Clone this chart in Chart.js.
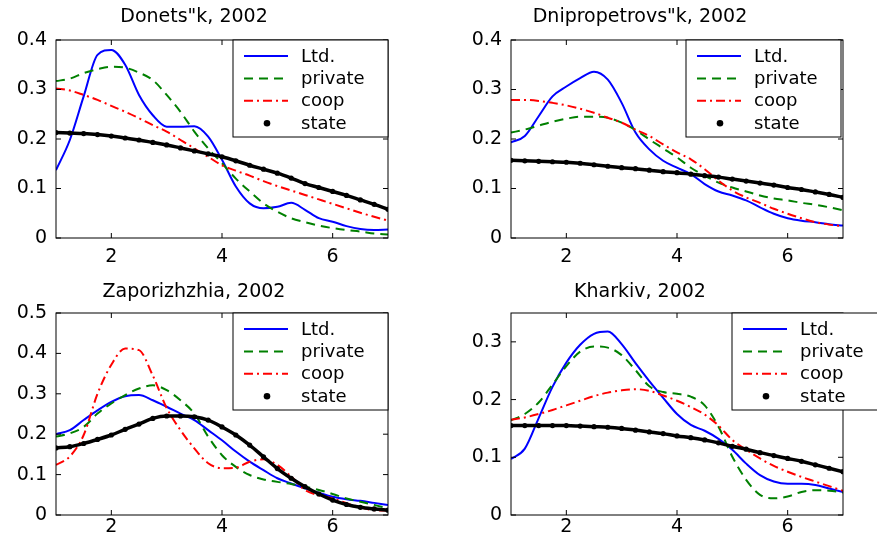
<!DOCTYPE html>
<html lang="en">
<head>
<meta charset="UTF-8">
<title>Densities by ownership type, 2002</title>
<script src="https://cdn.jsdelivr.net/npm/chart.js@4"></script>
<style>
  body { margin: 0; background: #fff; }
  .panel { position: absolute; }
</style>
</head>
<body>

<div class="panel" style="left:0;top:0;width:437px;height:270px"><canvas id="c1"></canvas></div>
<div class="panel" style="left:437px;top:0;width:440px;height:270px"><canvas id="c2"></canvas></div>
<div class="panel" style="left:0;top:270px;width:437px;height:271px"><canvas id="c3"></canvas></div>
<div class="panel" style="left:437px;top:270px;width:440px;height:271px"><canvas id="c4"></canvas></div>

<script>
// x grid shared by all curves
const xs = [1, 1.25, 1.5, 1.75, 2, 2.25, 2.5, 2.75, 3, 3.25, 3.5, 3.75, 4,
            4.25, 4.5, 4.75, 5, 5.25, 5.5, 5.75, 6, 6.25, 6.5, 6.75, 7];
const xTicks = [2, 4, 6];
const seriesNames = ['Ltd.', 'private', 'coop', 'state'];

// Donets"k
const donLtd     = [0.137, 0.198, 0.286, 0.370, 0.380, 0.350, 0.289, 0.248, 0.225, 0.225, 0.226, 0.205, 0.158,
                    0.104, 0.070, 0.060, 0.063, 0.071, 0.057, 0.040, 0.033, 0.024, 0.018, 0.016, 0.017];
const donPrivate = [0.317, 0.322, 0.333, 0.341, 0.346, 0.344, 0.334, 0.319, 0.289, 0.255, 0.215, 0.181, 0.151,
                    0.120, 0.094, 0.070, 0.053, 0.040, 0.032, 0.025, 0.020, 0.016, 0.013, 0.009, 0.007];
const donCoop    = [0.302, 0.298, 0.289, 0.279, 0.267, 0.255, 0.242, 0.228, 0.215, 0.198, 0.181, 0.164, 0.147,
                    0.136, 0.126, 0.115, 0.105, 0.096, 0.087, 0.078, 0.069, 0.060, 0.051, 0.043, 0.035];
const donState   = [0.213, 0.212, 0.211, 0.209, 0.206, 0.202, 0.198, 0.193, 0.188, 0.182, 0.176, 0.170, 0.164,
                    0.156, 0.147, 0.139, 0.131, 0.121, 0.110, 0.102, 0.094, 0.086, 0.077, 0.068, 0.058];

// Dnipropetrovs"k
const dniLtd     = [0.193, 0.206, 0.246, 0.286, 0.306, 0.323, 0.336, 0.320, 0.273, 0.213, 0.179, 0.156, 0.142,
                    0.129, 0.109, 0.094, 0.086, 0.076, 0.062, 0.049, 0.040, 0.035, 0.032, 0.028, 0.025];
const dniPrivate = [0.213, 0.219, 0.227, 0.235, 0.241, 0.245, 0.245, 0.243, 0.233, 0.218, 0.199, 0.181, 0.163,
                    0.142, 0.126, 0.112, 0.102, 0.094, 0.086, 0.080, 0.076, 0.071, 0.067, 0.062, 0.056];
const dniCoop    = [0.279, 0.279, 0.277, 0.273, 0.268, 0.261, 0.253, 0.243, 0.233, 0.219, 0.206, 0.189, 0.173,
                    0.159, 0.139, 0.116, 0.096, 0.082, 0.071, 0.059, 0.049, 0.040, 0.032, 0.027, 0.024];
const dniState   = [0.157, 0.156, 0.155, 0.154, 0.153, 0.151, 0.148, 0.145, 0.142, 0.140, 0.137, 0.134, 0.132,
                    0.129, 0.126, 0.123, 0.119, 0.115, 0.111, 0.107, 0.102, 0.098, 0.093, 0.088, 0.082];

// Zaporizhzhia
const zapLtd     = [0.200, 0.210, 0.235, 0.259, 0.280, 0.294, 0.297, 0.284, 0.268, 0.251, 0.235, 0.210, 0.185,
                    0.157, 0.132, 0.111, 0.091, 0.078, 0.066, 0.055, 0.045, 0.039, 0.035, 0.030, 0.025];
const zapPrivate = [0.194, 0.202, 0.218, 0.251, 0.276, 0.297, 0.313, 0.321, 0.309, 0.284, 0.251, 0.194, 0.148,
                    0.119, 0.099, 0.088, 0.082, 0.077, 0.070, 0.062, 0.052, 0.041, 0.033, 0.025, 0.016];
const zapCoop    = [0.124, 0.145, 0.198, 0.300, 0.372, 0.412, 0.408, 0.345, 0.265, 0.210, 0.165, 0.128, 0.116,
                    0.117, 0.132, 0.138, 0.124, 0.095, 0.062, 0.049, 0.041, 0.029, 0.019, 0.012, 0.011];
const zapState   = [0.166, 0.169, 0.177, 0.187, 0.198, 0.212, 0.225, 0.239, 0.245, 0.245, 0.243, 0.235, 0.218,
                    0.198, 0.173, 0.144, 0.115, 0.091, 0.070, 0.052, 0.037, 0.026, 0.019, 0.015, 0.012];

// Kharkiv
const khaLtd     = [0.097, 0.115, 0.168, 0.222, 0.264, 0.295, 0.314, 0.318, 0.296, 0.263, 0.232, 0.203, 0.175,
                    0.156, 0.146, 0.132, 0.113, 0.089, 0.069, 0.058, 0.054, 0.054, 0.052, 0.046, 0.040];
const khaPrivate = [0.164, 0.175, 0.195, 0.226, 0.258, 0.283, 0.292, 0.290, 0.277, 0.251, 0.223, 0.213, 0.210,
                    0.205, 0.190, 0.153, 0.101, 0.061, 0.035, 0.029, 0.032, 0.040, 0.043, 0.042, 0.039];
const khaCoop    = [0.165, 0.169, 0.175, 0.182, 0.190, 0.198, 0.206, 0.212, 0.216, 0.218, 0.215, 0.207, 0.198,
                    0.187, 0.174, 0.155, 0.130, 0.113, 0.098, 0.085, 0.075, 0.066, 0.058, 0.050, 0.042];
const khaState   = [0.155, 0.155, 0.155, 0.155, 0.155, 0.154, 0.153, 0.152, 0.150, 0.147, 0.144, 0.141, 0.137,
                    0.134, 0.130, 0.125, 0.119, 0.114, 0.108, 0.103, 0.098, 0.093, 0.087, 0.081, 0.075];

Chart.defaults.font.family = 'DejaVu Sans';
Chart.defaults.font.size = 19;
Chart.defaults.color = '#000';

// line styles, in the order of seriesNames; state is drawn on top
const styles = [
  { borderColor: '#0000ff', borderWidth: 2, borderDash: [], order: 3 },
  { borderColor: '#008000', borderWidth: 2, borderDash: [9, 6], order: 2 },
  { borderColor: '#ff0000', borderWidth: 2, borderDash: [9, 4, 2, 4], order: 1 },
  { borderColor: '#000000', borderWidth: 3.5, borderDash: [], order: 0, pointRadius: 2.6,
    pointBackgroundColor: '#000', pointBorderWidth: 0 }
];

// MATLAB-like box with inward ticks, and the boxed legend
const framePlugin = {
  id: 'frame',
  afterDatasetsDraw(chart) {
    const { ctx, chartArea: a, scales } = chart;
    ctx.save();
    ctx.strokeStyle = '#000';
    ctx.lineWidth = 1;
    ctx.strokeRect(a.left, a.top, a.right - a.left, a.bottom - a.top);
    ctx.beginPath();
    scales.y.ticks.forEach(t => {
      const py = scales.y.getPixelForValue(t.value);
      ctx.moveTo(a.left, py); ctx.lineTo(a.left + 5, py);
      ctx.moveTo(a.right, py); ctx.lineTo(a.right - 5, py);
    });
    scales.x.ticks.forEach(t => {
      const px = scales.x.getPixelForValue(t.value);
      ctx.moveTo(px, a.bottom); ctx.lineTo(px, a.bottom - 5);
      ctx.moveTo(px, a.top); ctx.lineTo(px, a.top + 5);
    });
    ctx.stroke();

    const opt = chart.options.plugins.frame;
    const left = a.right - opt.legendOffset, top = a.top, w = 155, h = 97;
    ctx.fillStyle = '#fff';
    ctx.fillRect(left, top, w, h);
    ctx.strokeRect(left, top, w, h);
    ctx.font = '18px "DejaVu Sans"';
    ctx.textBaseline = 'middle';
    chart.data.datasets.forEach((ds, i) => {
      const y = top + 16 + i * 22.4;
      if (ds.label === 'state') {
        ctx.fillStyle = '#000';
        ctx.beginPath();
        ctx.arc(left + 34, y, 3.3, 0, Math.PI * 2);
        ctx.fill();
      } else {
        ctx.save();
        ctx.strokeStyle = ds.borderColor;
        ctx.lineWidth = ds.borderWidth;
        ctx.setLineDash(ds.borderDash);
        ctx.beginPath();
        ctx.moveTo(left + 11, y); ctx.lineTo(left + 55, y);
        ctx.stroke();
        ctx.restore();
      }
      ctx.fillStyle = '#000';
      ctx.fillText(ds.label, left + 68, y + 1);
    });
    ctx.restore();
  }
};

function makePanel(id, title, series, yMax, geo) {
  const datasets = series.map((ys, i) => Object.assign({
    label: seriesNames[i],
    data: xs.map((x, j) => ({ x: x, y: ys[j] })),
    pointRadius: 0,
    cubicInterpolationMode: 'monotone',
    fill: false
  }, styles[i]));

  new Chart(document.getElementById(id), {
    type: 'line',
    data: { datasets: datasets },
    options: {
      animation: false,
      responsive: true,
      maintainAspectRatio: false,
      layout: { padding: { left: 0, right: geo.rightPad, top: 0, bottom: 0 } },
      plugins: {
        legend: { display: false },
        tooltip: { enabled: false },
        title: {
          display: true, text: title, color: '#000',
          font: { size: 19, weight: 'normal' },
          padding: { top: geo.titleTop, bottom: geo.titleBottom }
        },
        frame: { legendOffset: geo.legendOffset }
      },
      scales: {
        x: {
          type: 'linear', min: 1, max: 7,
          afterBuildTicks: s => { s.ticks = xTicks.map(v => ({ value: v })); },
          afterFit: s => { s.height = geo.xHeight; },
          grid: { display: false, drawTicks: false },
          border: { display: false },
          ticks: { padding: geo.xPad, color: '#000' }
        },
        y: {
          min: 0, max: yMax,
          afterFit: s => { s.width = geo.yWidth; },
          grid: { display: false, drawTicks: false },
          border: { display: false },
          ticks: { stepSize: 0.1, includeBounds: false, padding: 9, color: '#000' }
        }
      }
    },
    plugins: [framePlugin]
  });
}

makePanel('c1', 'Donets"k, 2002', [donLtd, donPrivate, donCoop, donState], 0.4,
  { rightPad: 49, yWidth: 56, xHeight: 32, xPad: 8, titleTop: 6, titleBottom: 11.2, legendOffset: 155 });
makePanel('c2', 'Dnipropetrovs"k, 2002', [dniLtd, dniPrivate, dniCoop, dniState], 0.4,
  { rightPad: 34, yWidth: 74, xHeight: 32, xPad: 8, titleTop: 6, titleBottom: 11.2, legendOffset: 157 });
makePanel('c3', 'Zaporizhzhia, 2002', [zapLtd, zapPrivate, zapCoop, zapState], 0.5,
  { rightPad: 49, yWidth: 56, xHeight: 26, xPad: 1, titleTop: 10.6, titleBottom: 9.6, legendOffset: 155 });
makePanel('c4', 'Kharkiv, 2002', [khaLtd, khaPrivate, khaCoop, khaState], 0.35,
  { rightPad: 34, yWidth: 74, xHeight: 26, xPad: 1, titleTop: 10.6, titleBottom: 9.6, legendOffset: 111 });
</script>
</body>
</html>
